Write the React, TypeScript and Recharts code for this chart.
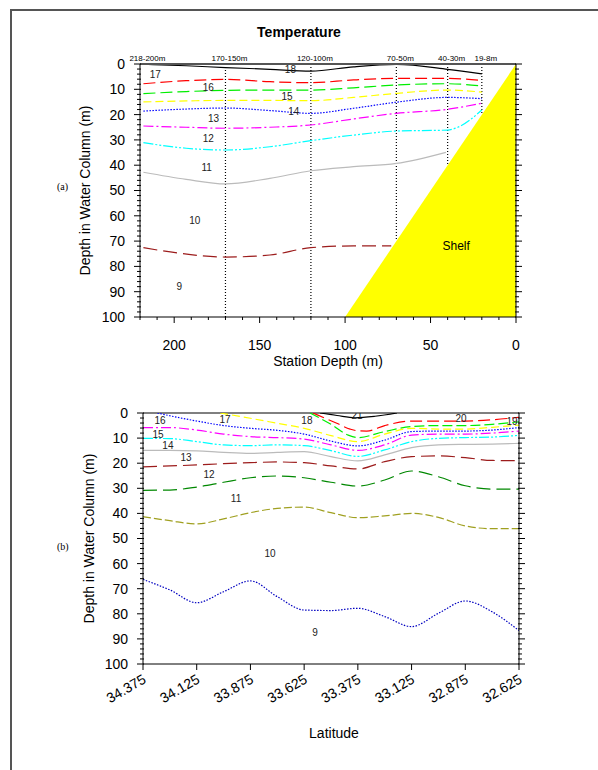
import React from 'react';
import { ComposedChart, Line, Area, Scatter, XAxis, YAxis, ReferenceLine } from 'recharts';

// (a) section across the shelf, x = station depth (m), d = depth in water column (m)
const stationDepths = [218, 170, 120, 70, 40, 20];
const stationNames = ['218-200m', '170-150m', '120-100m', '70-50m', '40-30m', '19-8m'];

const sectionX = [218, 193, 170, 144, 120, 95, 70, 40, 20];
const iso18 = [0.1, 0.7, 1.4, 2.1, 2.8, 1.1, 0.2, 2.1, 3.9];
const iso17 = [7.8, 6.6, 6.1, 7.0, 7.4, 6.3, 5.7, 5.7, 6.5];
const iso16 = [11.7, 10.9, 10.4, 10.3, 10.3, 9.4, 8.3, 7.8, 8.7];
const iso15 = [15.0, 14.6, 14.4, 14.4, 14.5, 13.2, 11.6, 10.3, 11.1];
const iso14 = [18.6, 17.8, 17.4, 18.4, 19.5, 17.5, 15.1, 13.2, 13.7];
const iso13 = [24.5, 25.0, 25.4, 25.0, 24.1, 21.7, 19.5, 17.9, 15.5];
const iso12X = [218, 193, 170, 144, 120, 95, 70, 40, 34, 20];
const iso12 = [31.1, 33.3, 34.0, 32.7, 30.3, 28.1, 26.5, 26.1, 25.0, 18.2];
const iso11X = [218, 193, 170, 144, 120, 95, 70, 41];
const iso11 = [42.8, 45.6, 47.4, 45.2, 42.2, 40.6, 39.3, 34.9];
const iso10X = [218, 197, 170, 144, 120, 95, 73];
const iso10 = [72.6, 74.8, 76.3, 75.5, 72.6, 71.9, 71.9];

const shelfX = [100, 0];
const shelfD = [100, 0];

const labelAX = [211, 132, 180, 134, 130, 177, 180, 181, 188, 197];
const labelAD = [4.3, 2, 9.1, 13, 18.6, 21.7, 29.6, 41, 62, 88];
const labelAText = ['17', '18', '16', '15', '14', '13', '12', '11', '10', '9'];

// (b) along-shore section, x = latitude
const latX = [34.375, 34.25, 34.125, 34.0, 33.875, 33.75, 33.625, 33.5, 33.375, 33.25, 33.125, 33.0, 32.875, 32.75, 32.625];
const latTicks = [34.375, 34.125, 33.875, 33.625, 33.375, 33.125, 32.875, 32.625];

const b21X = [33.551, 33.472, 33.388, 33.295, 33.193];
const b21 = [0, 1.0, 1.9, 1.3, 0];
const b20X = [33.584, 33.473, 33.411, 33.375, 33.334, 33.25, 33.125, 33.0, 32.875, 32.75, 32.625];
const b20 = [0, 4.1, 6.4, 7.1, 7.2, 5.0, 3.2, 3.2, 3.2, 2.7, 1.7];
const b19X = [33.598, 33.5, 33.42, 33.375, 33.25, 33.125, 33.0, 32.875, 32.75, 32.625];
const b19 = [0, 4.5, 8.8, 9.8, 7.4, 5.4, 5.0, 5.0, 4.5, 3.5];
const b18X = [34.016, 33.875, 33.75, 33.625, 33.5, 33.375, 33.25, 33.125, 33.0, 32.875, 32.75, 32.625];
const b18 = [0, 2.1, 4.1, 6.1, 9.0, 11.4, 8.4, 6.1, 6.4, 6.4, 5.7, 4.8];
const b17X = [34.308, 34.25, 34.125, 34.0, 33.875, 33.75, 33.625, 33.5, 33.375, 33.25, 33.125, 33.0, 32.875, 32.75, 32.625];
const b17 = [0, 1.1, 3.2, 5.0, 6.1, 6.9, 8.4, 11.2, 13.1, 10.8, 7.4, 7.2, 7.2, 6.8, 5.8];
const b16 = [5.8, 5.8, 6.8, 8.4, 9.4, 9.8, 10.4, 12.7, 14.9, 12.7, 8.8, 8.4, 8.4, 8.0, 7.2];
const b15 = [10.1, 10.2, 11.4, 12.7, 13.0, 12.7, 13.0, 15.0, 17.3, 14.7, 11.4, 10.1, 9.8, 9.6, 8.9];
const b14 = [14.9, 14.9, 15.1, 15.7, 16.1, 15.7, 15.4, 17.4, 19.1, 16.7, 13.8, 12.7, 12.5, 12.4, 12.1];
const b13 = [21.5, 21.1, 20.7, 20.2, 19.8, 19.5, 19.8, 21.1, 22.3, 19.4, 17.4, 17.1, 17.8, 18.9, 19.0];
const b12 = [30.8, 30.7, 29.5, 27.6, 25.8, 25.1, 25.8, 27.6, 29.1, 26.7, 23.1, 25.4, 29.0, 30.3, 30.3];
const b11 = [41.3, 42.9, 44.2, 42.2, 39.7, 38.0, 37.5, 39.7, 41.7, 41.0, 40.0, 41.6, 45.0, 46.1, 46.1];
const b10 = [66.3, 70.5, 75.6, 71.2, 66.9, 73.2, 78.5, 78.7, 77.8, 81.1, 85.1, 79.8, 74.9, 79.2, 86.7];

const labelBX = [34.296, 33.993, 33.612, 33.379, 32.895, 32.657, 34.305, 34.259, 34.175, 34.068, 33.942, 33.784, 33.574];
const labelBD = [2.8, 2.4, 2.8, 0.8, 2, 3.2, 8.4, 13.1, 17.9, 24.7, 33.9, 55.8, 87.6];
const labelBText = ['16', '17', '18', '21', '20', '19', '15', '14', '13', '12', '11', '10', '9'];

const depthTicks = Array.from({ length: 51 }, (_, i) => i * 2);
const stationTicks = Array.from({ length: 23 }, (_, i) => 220 - i * 10);

const pts = (xs: number[], ds: number[]) => xs.map((x, i) => ({ x, d: ds[i] }));
const lbls = (xs: number[], ds: number[], ts: string[]) => xs.map((x, i) => ({ x, d: ds[i], t: ts[i] }));

const linesA = [
  { data: pts(sectionX, iso18), color: '#000000', dash: undefined },
  { data: pts(sectionX, iso17), color: '#ff0000', dash: '12 5' },
  { data: pts(sectionX, iso16), color: '#00ee00', dash: '12 5' },
  { data: pts(sectionX, iso15), color: '#ffff00', dash: '8 4' },
  { data: pts(sectionX, iso14), color: '#0000ff', dash: '1.5 1.5' },
  { data: pts(sectionX, iso13), color: '#ff00ff', dash: '10 3 2 3' },
  { data: pts(iso12X, iso12), color: '#00ffff', dash: '10 2 2 2 2 2' },
  { data: pts(iso11X, iso11), color: '#bbbbbb', dash: undefined },
  { data: pts(iso10X, iso10), color: '#9c1c1c', dash: '14 6' },
];

const linesB = [
  { data: pts(b21X, b21), color: '#000000', dash: undefined },
  { data: pts(b20X, b20), color: '#ff0000', dash: '12 5' },
  { data: pts(b19X, b19), color: '#00ee00', dash: '10 4' },
  { data: pts(b18X, b18), color: '#ffff00', dash: '8 4' },
  { data: pts(b17X, b17), color: '#0000ff', dash: '1.5 1.5' },
  { data: pts(latX, b16), color: '#ff00ff', dash: '10 3 2 3' },
  { data: pts(latX, b15), color: '#00ffff', dash: '10 2 2 2 2 2' },
  { data: pts(latX, b14), color: '#bbbbbb', dash: undefined },
  { data: pts(latX, b13), color: '#9c1c1c', dash: '14 6' },
  { data: pts(latX, b12), color: '#008800', dash: '14 6' },
  { data: pts(latX, b11), color: '#a0a020', dash: '8 3' },
  { data: pts(latX, b10), color: '#0000c0', dash: '1.5 1.5' },
];

const DepthTickLeft = ({ x, y, payload }: any) => {
  const major = payload.value % 10 === 0;
  return (
    <g>
      <line x1={x + 1} x2={x - (major ? 6 : 3)} y1={y} y2={y} stroke="#000" />
      {major && (
        <text x={x - 15} y={y} dy="0.35em" textAnchor="end" fontSize={14} fill="#000">
          {payload.value}
        </text>
      )}
    </g>
  );
};

const DepthTickRight = ({ x, y, payload }: any) => {
  const major = payload.value % 10 === 0;
  return <line x1={x - 1} x2={x + (major ? 6 : 3)} y1={y} y2={y} stroke="#000" />;
};

const StationTick = ({ x, y, payload }: any) => {
  const major = payload.value % 50 === 0;
  return (
    <g>
      <line x1={x} x2={x} y1={y} y2={y + (major ? 6 : 3)} stroke="#000" />
      {major && (
        <text x={x} y={y + 28} dy="0.35em" textAnchor="middle" fontSize={14} fill="#000">
          {payload.value}
        </text>
      )}
    </g>
  );
};

const StationNameTick = ({ x, y, payload }: any) => (
  <text x={x + 4} y={y - 3} textAnchor="middle" fontSize={8} fill="#000">
    {stationNames[stationDepths.indexOf(payload.value)]}
  </text>
);

const LatTick = ({ x, y, payload }: any) => (
  <g>
    <line x1={x} x2={x} y1={y} y2={y + 6} stroke="#000" />
    <text
      x={x + 4}
      y={y + 18}
      textAnchor="end"
      fontSize={14}
      fill="#000"
      transform={`rotate(-30, ${x + 4}, ${y + 18})`}
    >
      {payload.value.toFixed(3)}
    </text>
  </g>
);

const contourLabel = (props: any) => (
  <text x={props.cx} y={props.cy} dy="0.35em" textAnchor="middle" fontSize={10} fill="#222">
    {props.payload.t}
  </text>
);

const shelfLabel = (props: any) => (
  <text x={props.cx} y={props.cy} dy="0.35em" textAnchor="middle" fontSize={12} fill="#000">
    {props.payload.t}
  </text>
);

function SectionChart() {
  return (
    <ComposedChart width={598} height={420} margin={{ top: 44, right: 62, bottom: 15, left: 30 }}>
      <XAxis
        xAxisId="top"
        orientation="top"
        type="number"
        dataKey="x"
        domain={[0, 220]}
        reversed
        allowDataOverflow
        ticks={stationDepths}
        interval={0}
        height={20}
        tickSize={0}
        tickMargin={0}
        tickLine={false}
        axisLine={{ stroke: '#555', strokeWidth: 2 }}
        tick={<StationNameTick />}
      />
      <XAxis
        type="number"
        dataKey="x"
        domain={[0, 220]}
        reversed
        allowDataOverflow
        ticks={stationTicks}
        interval={0}
        height={88}
        tickSize={0}
        tickMargin={0}
        tickLine={false}
        axisLine={{ stroke: '#000' }}
        tick={<StationTick />}
        label={{ value: 'Station Depth (m)', position: 'center', fontSize: 14, fill: '#000' }}
      />
      <YAxis
        type="number"
        dataKey="d"
        domain={[0, 100]}
        reversed
        allowDataOverflow
        ticks={depthTicks}
        interval={0}
        width={110}
        tickSize={0}
        tickMargin={0}
        tickLine={false}
        axisLine={{ stroke: '#000' }}
        tick={<DepthTickLeft />}
        label={{ value: 'Depth in Water Column (m)', angle: -90, position: 'center', fontSize: 14, fill: '#000' }}
      />
      <YAxis
        yAxisId="right"
        orientation="right"
        type="number"
        domain={[0, 100]}
        reversed
        allowDataOverflow
        ticks={depthTicks}
        interval={0}
        width={20}
        tickSize={0}
        tickMargin={0}
        tickLine={false}
        axisLine={{ stroke: '#000' }}
        tick={<DepthTickRight />}
      />
      {stationDepths.slice(1).map((s) => (
        <ReferenceLine
          key={s}
          segment={[{ x: s, y: 0 }, { x: s, y: Math.min(s, 100) }]}
          stroke="#000"
          strokeWidth={1.2}
          strokeDasharray="1 2"
        />
      ))}
      {linesA.map((l, i) => (
        <Line
          key={i}
          data={l.data}
          dataKey="d"
          type="monotone"
          stroke={l.color}
          strokeWidth={1.2}
          strokeDasharray={l.dash}
          dot={false}
          activeDot={false}
          isAnimationActive={false}
        />
      ))}
      <Area
        data={pts(shelfX, shelfD)}
        dataKey="d"
        type="linear"
        baseValue={100}
        fill="#ffff00"
        fillOpacity={1}
        stroke="none"
        isAnimationActive={false}
      />
      <Scatter data={lbls(labelAX, labelAD, labelAText)} dataKey="d" shape={contourLabel} isAnimationActive={false} />
      <Scatter data={lbls([35], [72], ['Shelf'])} dataKey="d" shape={shelfLabel} isAnimationActive={false} />
    </ComposedChart>
  );
}

function LatitudeChart() {
  return (
    <ComposedChart width={598} height={460} margin={{ top: 53, right: 59, bottom: 18, left: 35 }}>
      <XAxis
        type="number"
        dataKey="x"
        domain={[32.625, 34.375]}
        reversed
        allowDataOverflow
        ticks={latTicks}
        interval={0}
        height={138}
        tickSize={0}
        tickMargin={0}
        tickLine={false}
        axisLine={{ stroke: '#000' }}
        tick={<LatTick />}
        label={{ value: 'Latitude', position: 'center', fontSize: 14, fill: '#000', dx: 3 }}
      />
      <YAxis
        type="number"
        dataKey="d"
        domain={[0, 100]}
        reversed
        allowDataOverflow
        ticks={depthTicks}
        interval={0}
        width={108}
        tickSize={0}
        tickMargin={0}
        tickLine={false}
        axisLine={{ stroke: '#000' }}
        tick={<DepthTickLeft />}
        label={{ value: 'Depth in Water Column (m)', angle: -90, position: 'center', fontSize: 14, fill: '#000' }}
      />
      <YAxis
        yAxisId="right"
        orientation="right"
        type="number"
        domain={[0, 100]}
        reversed
        allowDataOverflow
        ticks={depthTicks}
        interval={0}
        width={20}
        tickSize={0}
        tickMargin={0}
        tickLine={false}
        axisLine={{ stroke: '#000' }}
        tick={<DepthTickRight />}
      />
      <ReferenceLine y={0} stroke="#000" />
      {linesB.map((l, i) => (
        <Line
          key={i}
          data={l.data}
          dataKey="d"
          type="monotone"
          stroke={l.color}
          strokeWidth={1.2}
          strokeDasharray={l.dash}
          dot={false}
          activeDot={false}
          isAnimationActive={false}
        />
      ))}
      <Scatter data={lbls(labelBX, labelBD, labelBText)} dataKey="d" shape={contourLabel} isAnimationActive={false} />
    </ComposedChart>
  );
}

export default function App() {
  return (
    <div
      style={{
        position: 'absolute',
        left: 0,
        top: 0,
        width: 598,
        height: 770,
        overflow: 'hidden',
        background: '#fff',
        fontFamily: '"Liberation Sans", Arial, sans-serif',
      }}
    >
      <div style={{ position: 'absolute', left: 10, top: 9, width: 700, height: 800, border: '2px solid #555' }} />
      <div style={{ position: 'absolute', left: 199, top: 24, width: 200, textAlign: 'center', fontSize: 14, fontWeight: 'bold' }}>
        Temperature
      </div>
      <div style={{ position: 'absolute', left: 57, top: 181, fontFamily: '"Liberation Serif", "Times New Roman", serif', fontSize: 10 }}>
        (a)
      </div>
      <div style={{ position: 'absolute', left: 57, top: 541, fontFamily: '"Liberation Serif", "Times New Roman", serif', fontSize: 10 }}>
        (b)
      </div>
      <div style={{ position: 'absolute', left: 0, top: 0 }}>
        <SectionChart />
      </div>
      <div style={{ position: 'absolute', left: 0, top: 360 }}>
        <LatitudeChart />
      </div>
    </div>
  );
}
